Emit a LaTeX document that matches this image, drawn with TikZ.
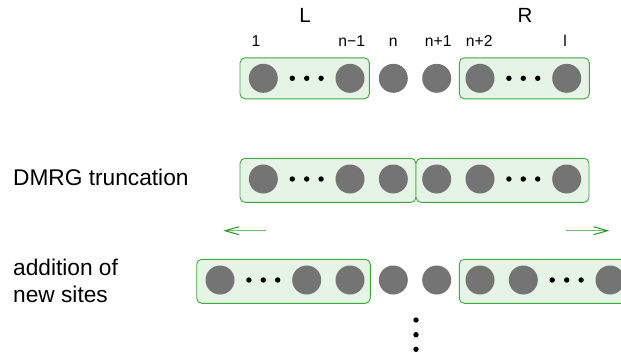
\documentclass[tikz,border=0pt]{standalone}
\usepackage{fontspec}
\setmainfont{Liberation Sans}
\usetikzlibrary{arrows.meta}
\definecolor{sitegray}{HTML}{747474}
\definecolor{boxfill}{HTML}{E6F4E6}
\definecolor{boxline}{HTML}{3DAA3D}
\definecolor{arrline}{HTML}{6CC36C}
\definecolor{arrhead}{HTML}{1E9A1E}
\begin{document}
\begin{tikzpicture}[x=1pt,y=-1pt,
  site/.style={circle,fill=sitegray,minimum size=29pt,inner sep=0pt},
  dotc/.style={circle,fill=black,minimum size=5.4pt,inner sep=0pt},
  blockbox/.style={draw=boxline,fill=boxfill,rounded corners=5pt,line width=0.9pt,inner sep=0pt},
  lab/.style={anchor=base,font=\fontsize{15.7}{18}\selectfont,inner sep=0pt},
  big/.style={anchor=base,font=\fontsize{20.5}{24}\selectfont,inner sep=0pt},
  side/.style={anchor=base west,font=\fontsize{22.7}{25}\selectfont,inner sep=0pt},
  sweep/.style={draw=arrline,line width=1.3pt,-{Straight Barb[length=14pt,width=8pt,color=arrhead,line width=1pt]}}
]
\useasboundingbox (0,0) rectangle (621,354);
\clip (0,0) rectangle (621,354);

% ---------- top row ----------
\node[big] (Ltxt) at (305,22.7) {L};
\node[big] (Rtxt) at (525,22.7) {R};
\node[lab] (l1)  at (256,46.7) {1};
\node[lab] (l2)  at (351.7,46.7) {n−1};
\node[lab] (l3)  at (393.3,46.7) {n};
\node[lab] (l4)  at (438.3,46.7) {n+1};
\node[lab] (l5)  at (479.3,46.7) {n+2};
\node[lab] (l6)  at (565,46.7) {l};

\node[blockbox,minimum width=129.3pt,minimum height=41pt] (tbL) at (304.65,78.3) {};
\node[blockbox,minimum width=130pt,minimum height=41pt] (tbR) at (524.3,78.3) {};

\node[site] (t1) at (263.3,78.3) {};
\node[dotc] (td1) at (292.3,78.3) {};
\node[dotc] (td2) at (306.7,78.3) {};
\node[dotc] (td3) at (321.1,78.3) {};
\node[site] (t2) at (350,78.3) {};
\node[site] (t3) at (393.3,78.3) {};
\node[site] (t4) at (436.7,78.3) {};
\node[site] (t5) at (480,78.3) {};
\node[dotc] (td4) at (508.9,78.3) {};
\node[dotc] (td5) at (523.3,78.3) {};
\node[dotc] (td6) at (537.7,78.3) {};
\node[site] (t6) at (566.7,78.3) {};

% ---------- middle row ----------
\node[side] (dmrg) at (13,185) {DMRG truncation};
\node[blockbox,minimum width=176pt,minimum height=44pt] (mbL) at (328,180.3) {};
\node[blockbox,minimum width=173pt,minimum height=44pt] (mbR) at (502.5,180.3) {};

\node[site] (m1) at (263.3,179) {};
\node[dotc] (md1) at (292.3,179) {};
\node[dotc] (md2) at (306.7,179) {};
\node[dotc] (md3) at (321.1,179) {};
\node[site] (m2) at (350,179) {};
\node[site] (m3) at (393.3,179) {};
\node[site] (m4) at (436.7,179) {};
\node[site] (m5) at (480,179) {};
\node[dotc] (md4) at (508.9,179) {};
\node[dotc] (md5) at (523.3,179) {};
\node[dotc] (md6) at (537.7,179) {};
\node[site] (m6) at (566.7,179) {};

% ---------- sweep arrows ----------
\coordinate (aLs) at (266,230.7);
\coordinate (aLe) at (223.3,230.7);
\coordinate (aRs) at (566,230.7);
\coordinate (aRe) at (609.3,230.7);
\draw[sweep] (aLs) -- (aLe);
\draw[sweep] (aRs) -- (aRe);

% ---------- bottom row ----------
\node[side] (add1) at (13,275) {addition of};
\node[side] (add2) at (13,302.7) {new sites};
\node[blockbox,minimum width=173.6pt,minimum height=44pt] (bbL) at (283.5,281.3) {};
\node[blockbox,minimum width=174pt,minimum height=44pt] (bbR) at (546.3,281.3) {};

\node[site] (b1) at (220,280) {};
\node[dotc] (bd1) at (248.9,280) {};
\node[dotc] (bd2) at (263.3,280) {};
\node[dotc] (bd3) at (277.7,280) {};
\node[site] (b2) at (306.7,280) {};
\node[site] (b3) at (350,280) {};
\node[site] (b4) at (393.3,280) {};
\node[site] (b5) at (436.7,280) {};
\node[site] (b6) at (480,280) {};
\node[site] (b7) at (523.3,280) {};
\node[dotc] (bd4) at (552.2,280) {};
\node[dotc] (bd5) at (566.7,280) {};
\node[dotc] (bd6) at (581.1,280) {};
\node[site] (b8) at (610,280) {};

% ---------- vertical dots ----------
\node[dotc] (v1) at (416,320) {};
\node[dotc] (v2) at (416,334.7) {};
\node[dotc] (v3) at (416,349.3) {};
\end{tikzpicture}
\end{document}
